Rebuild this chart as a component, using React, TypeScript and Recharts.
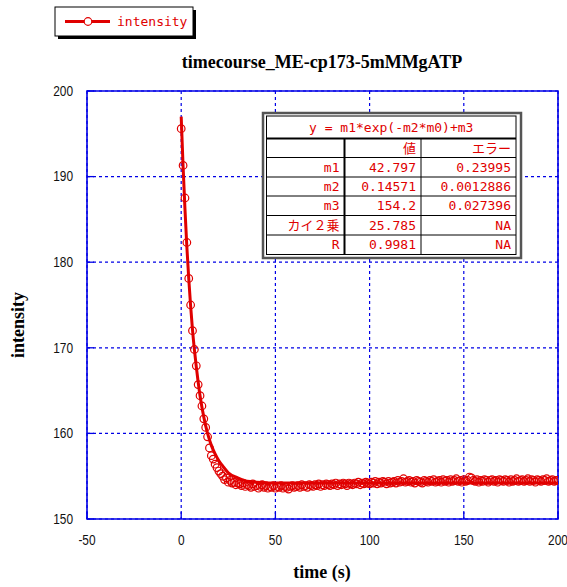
import React from "react";
import {
  ComposedChart,
  Line,
  Scatter,
  XAxis,
  YAxis,
  CartesianGrid,
  ReferenceArea,
} from "recharts";

// ---------- data ----------
const SAMPLE_START_S = 0;
const SAMPLE_STEP_S = 1;
const INTENSITY = [
  // 0-9
  195.6, 191.3, 187.5, 182.3, 178.1, 175.0, 172.0, 169.8, 167.9, 165.7,
  // 10-19
  164.4, 163.2, 161.7, 160.7, 159.6, 158.3, 157.4, 157.0, 156.4, 156.0,
  // 20-29
  155.6, 155.3, 155.0, 154.6, 154.8, 154.3, 154.5, 154.2, 154.3, 154.0,
  // 30-39
  154.2, 154.1, 153.9, 154.2, 153.8, 154.0, 153.9, 153.7, 154.1, 153.8,
  // 40-49
  153.9, 153.6, 153.8, 154.0, 153.7, 153.9, 153.6, 153.8, 153.7, 153.9,
  // 50-59
  153.6, 153.8, 153.7, 153.9, 153.6, 153.8, 153.7, 153.5, 153.8, 153.9,
  // 60-69
  153.7, 153.8, 153.9, 153.7, 154.0, 153.8, 153.9, 153.7, 154.0, 153.9,
  // 70-79
  153.8, 154.0, 153.9, 154.1, 153.8, 154.0, 153.9, 154.1, 154.0, 153.9,
  // 80-89
  154.1, 154.0, 154.2, 153.9, 154.1, 154.0, 154.2, 154.1, 153.9, 154.2,
  // 90-99
  154.1, 154.0, 154.2, 154.1, 154.3, 154.0, 154.2, 154.1, 154.3, 154.2,
  // 100-109
  154.1, 154.3, 154.2, 154.4, 154.1, 154.3, 154.2, 154.4, 154.3, 154.1,
  // 110-119
  154.4, 154.2, 154.3, 154.4, 154.2, 154.5, 154.3, 154.4, 154.7, 154.3,
  // 120-129
  154.4, 154.5, 154.3, 154.4, 154.2, 154.5, 154.4, 154.3, 154.2, 154.5,
  // 130-139
  154.4, 154.3, 154.5, 154.4, 154.6, 154.3, 154.4, 154.5, 154.3, 154.6,
  // 140-149
  154.4, 154.5, 154.3, 154.6, 154.4, 154.5, 154.7, 154.4, 154.5, 154.3,
  // 150-159
  154.6, 154.4, 154.5, 154.9, 154.8, 154.5, 154.4, 154.6, 154.3, 154.5,
  // 160-169
  154.4, 154.6, 154.5, 154.3, 154.5, 154.6, 154.4, 154.5, 154.3, 154.6,
  // 170-179
  154.5, 154.4, 154.6, 154.5, 154.3, 154.6, 154.4, 154.5, 154.7, 154.4,
  // 180-189
  154.5, 154.6, 154.4, 154.5, 154.7, 154.4, 154.6, 154.5, 154.3, 154.6,
  // 190-200
  154.5, 154.4, 154.6, 154.5, 154.7, 154.4, 154.5, 154.6, 154.4, 154.5, 154.5,
];

// fitted curve
const FIT_TIME = [0, 1, 2, 3, 4, 5, 6, 7, 8, 9, 10, 12, 14, 16, 18, 20, 22, 25, 30, 35, 40, 50, 75, 100, 150, 200];
const FIT_VALUE = [
  197.0, 191.2, 186.2, 181.8, 178.1, 174.9, 172.1, 169.8, 167.8, 166.0,
  164.4, 161.9, 160.0, 158.6, 157.6, 156.8, 156.2, 155.4, 154.8, 154.4,
  154.3, 154.2, 154.2, 154.2, 154.2, 154.2,
];

const X_TICKS = [-50, 0, 50, 100, 150, 200];
const Y_TICKS = [150, 160, 170, 180, 190, 200];

const TITLE = "timecourse_ME-cp173-5mMMgATP";
const X_LABEL = "time (s)";
const Y_LABEL = "intensity";
const SERIES_NAME = "intensity";

const FIT_FORMULA = "y = m1*exp(-m2*m0)+m3";
const FIT_HEADERS = ["", "値", "エラー"];
const FIT_PARAMS = ["m1", "m2", "m3", "カイ２乗", "R"];
const FIT_VALUES = ["42.797", "0.14571", "154.2", "25.785", "0.9981"];
const FIT_ERRORS = ["0.23995", "0.0012886", "0.027396", "NA", "NA"];

// ---------- styles ----------
const RED = "#e00000";
const BLUE = "#0000e6";
const W = 567;
const H = 587;
const Y_TICK_GAP = 14;
const X_TICK_GAP = 15;
const SERIF = "'Liberation Serif', 'Times New Roman', serif";
const MONO = "'DejaVu Sans Mono', 'Noto Sans CJK JP', monospace";
const TICK_FONT = "'Liberation Sans', Arial, sans-serif";

const points = INTENSITY.map((v, i) => ({ t: SAMPLE_START_S + i * SAMPLE_STEP_S, v }));
const fit = FIT_TIME.map((t, i) => ({ t, v: FIT_VALUE[i] }));

const YTick = (props: any) => {
  const { x, y, payload } = props;
  const ax = x + Y_TICK_GAP;
  return (
    <g>
      <line x1={ax} x2={ax + 7} y1={y} y2={y} stroke={BLUE} strokeWidth={1.3} />
      <g transform={`translate(${x},${y}) scale(0.85,1)`}>
        <text x={0} y={0} textAnchor="end" dominantBaseline="central" fontFamily={TICK_FONT} fontSize={14} fill="#111">
          {payload.value}
        </text>
      </g>
    </g>
  );
};

const XTick = (props: any) => {
  const { x, y, payload } = props;
  const ay = y - X_TICK_GAP;
  return (
    <g>
      <line x1={x} x2={x} y1={ay} y2={ay - 7} stroke={BLUE} strokeWidth={1.3} />
      <g transform={`translate(${x},${y}) scale(0.85,1)`}>
        <text x={0} y={0} dy="0.75em" textAnchor="middle" fontFamily={TICK_FONT} fontSize={14} fill="#111">
          {payload.value}
        </text>
      </g>
    </g>
  );
};

const OpenCircle = (props: any) => {
  const { cx, cy } = props;
  if (cx == null || cy == null) return null;
  return <circle cx={cx} cy={cy} r={3.8} fill="none" stroke={RED} strokeWidth={1.2} />;
};

const FitTable = () => {
  const left = 263;
  const top = 113;
  const right = 521;
  const bottom = 258;
  const cols = [266.5, 344.5, 421, 516];
  const rowTops = [116, 138.5, 157.5, 177, 196, 215.5, 235, 254.5];
  const cells: React.ReactNode[] = [];
  const rows = [FIT_HEADERS, ...FIT_PARAMS.map((p, i) => [p, FIT_VALUES[i], FIT_ERRORS[i]])];
  rows.forEach((row, r) => {
    const cy = (rowTops[r + 1] + rowTops[r + 2]) / 2;
    row.forEach((txt, c) => {
      cells.push(
        <text key={`${r}-${c}`} x={cols[c + 1] - 5} y={cy} textAnchor="end" dominantBaseline="central" fontFamily={MONO} fontSize={13} fill={RED}>
          {txt}
        </text>
      );
    });
  });
  return (
    <g>
      <rect x={left} y={top} width={right - left} height={bottom - top} fill="#fff" stroke="#555" strokeWidth={2.5} />
      <rect x={cols[0]} y={rowTops[0]} width={cols[3] - cols[0]} height={rowTops[7] - rowTops[0]} fill="none" stroke="#000" strokeWidth={1} />
      {rowTops.slice(1, 7).map((y, i) => (
        <line key={i} x1={cols[0]} x2={cols[3]} y1={y} y2={y} stroke="#000" strokeWidth={i === 0 ? 2 : 1} />
      ))}
      <line x1={cols[1]} x2={cols[1]} y1={rowTops[1]} y2={rowTops[7]} stroke="#000" strokeWidth={2} />
      <line x1={cols[2]} x2={cols[2]} y1={rowTops[1]} y2={rowTops[7]} stroke="#000" strokeWidth={1} />
      <text x={(cols[0] + cols[3]) / 2} y={(rowTops[0] + rowTops[1]) / 2} textAnchor="middle" dominantBaseline="central" fontFamily={MONO} fontSize={13} fill={RED}>
        {FIT_FORMULA}
      </text>
      {cells}
    </g>
  );
};

export default function App() {
  return (
    <div style={{ position: "absolute", left: 0, top: 0, width: W, height: H, background: "#fff" }}>
      <ComposedChart width={W} height={H} margin={{ top: 91, right: 9, bottom: 0, left: 0 }}>
        <CartesianGrid stroke={BLUE} strokeDasharray="3 3" strokeWidth={1.2} />
        <XAxis
          type="number"
          dataKey="t"
          domain={[-50, 200]}
          ticks={X_TICKS}
          allowDataOverflow
          height={68}
          tickSize={0}
          tickMargin={X_TICK_GAP}
          tickLine={false}
          axisLine={false}
          tick={<XTick />}
          interval={0}
        />
        <YAxis
          type="number"
          dataKey="v"
          domain={[150, 200]}
          ticks={Y_TICKS}
          allowDataOverflow
          width={87}
          tickSize={0}
          tickMargin={Y_TICK_GAP}
          tickLine={false}
          axisLine={false}
          tick={<YTick />}
          interval={0}
        />
        <ReferenceArea x1={-50} x2={200} y1={150} y2={200} fill="none" fillOpacity={0} stroke={BLUE} strokeWidth={1.6} ifOverflow="visible" />
        <Scatter data={points} dataKey="v" shape={<OpenCircle />} isAnimationActive={false} />
        <Line data={fit} dataKey="v" type="monotone" stroke={RED} strokeWidth={3} dot={false} isAnimationActive={false} />
      </ComposedChart>
      <svg width={W} height={H} style={{ position: "absolute", left: 0, top: 0, pointerEvents: "none" }}>
        {/* legend */}
        <rect x={58} y={10} width={138} height={29} fill="#000" />
        <rect x={55} y={7} width={138} height={29} fill="#fff" stroke="#000" strokeWidth={1} />
        <line x1={65} x2={110} y1={21.5} y2={21.5} stroke={RED} strokeWidth={3} />
        <circle cx={88} cy={21.5} r={3.8} fill="#fff" stroke={RED} strokeWidth={1.2} />
        <text x={117} y={21.5} dominantBaseline="central" fontFamily={MONO} fontSize={13} fill={RED}>
          {SERIES_NAME}
        </text>
        {/* title and axis labels */}
        <text x={322} y={62} textAnchor="middle" dominantBaseline="central" fontFamily={SERIF} fontWeight="bold" fontSize={18} fill="#000">
          {TITLE}
        </text>
        <text x={322} y={572} textAnchor="middle" dominantBaseline="central" fontFamily={SERIF} fontWeight="bold" fontSize={18} fill="#000">
          {X_LABEL}
        </text>
        <text x={18} y={325} textAnchor="middle" dominantBaseline="central" fontFamily={SERIF} fontWeight="bold" fontSize={18} fill="#000" transform="rotate(-90 18 325)">
          {Y_LABEL}
        </text>
        <FitTable />
      </svg>
    </div>
  );
}
